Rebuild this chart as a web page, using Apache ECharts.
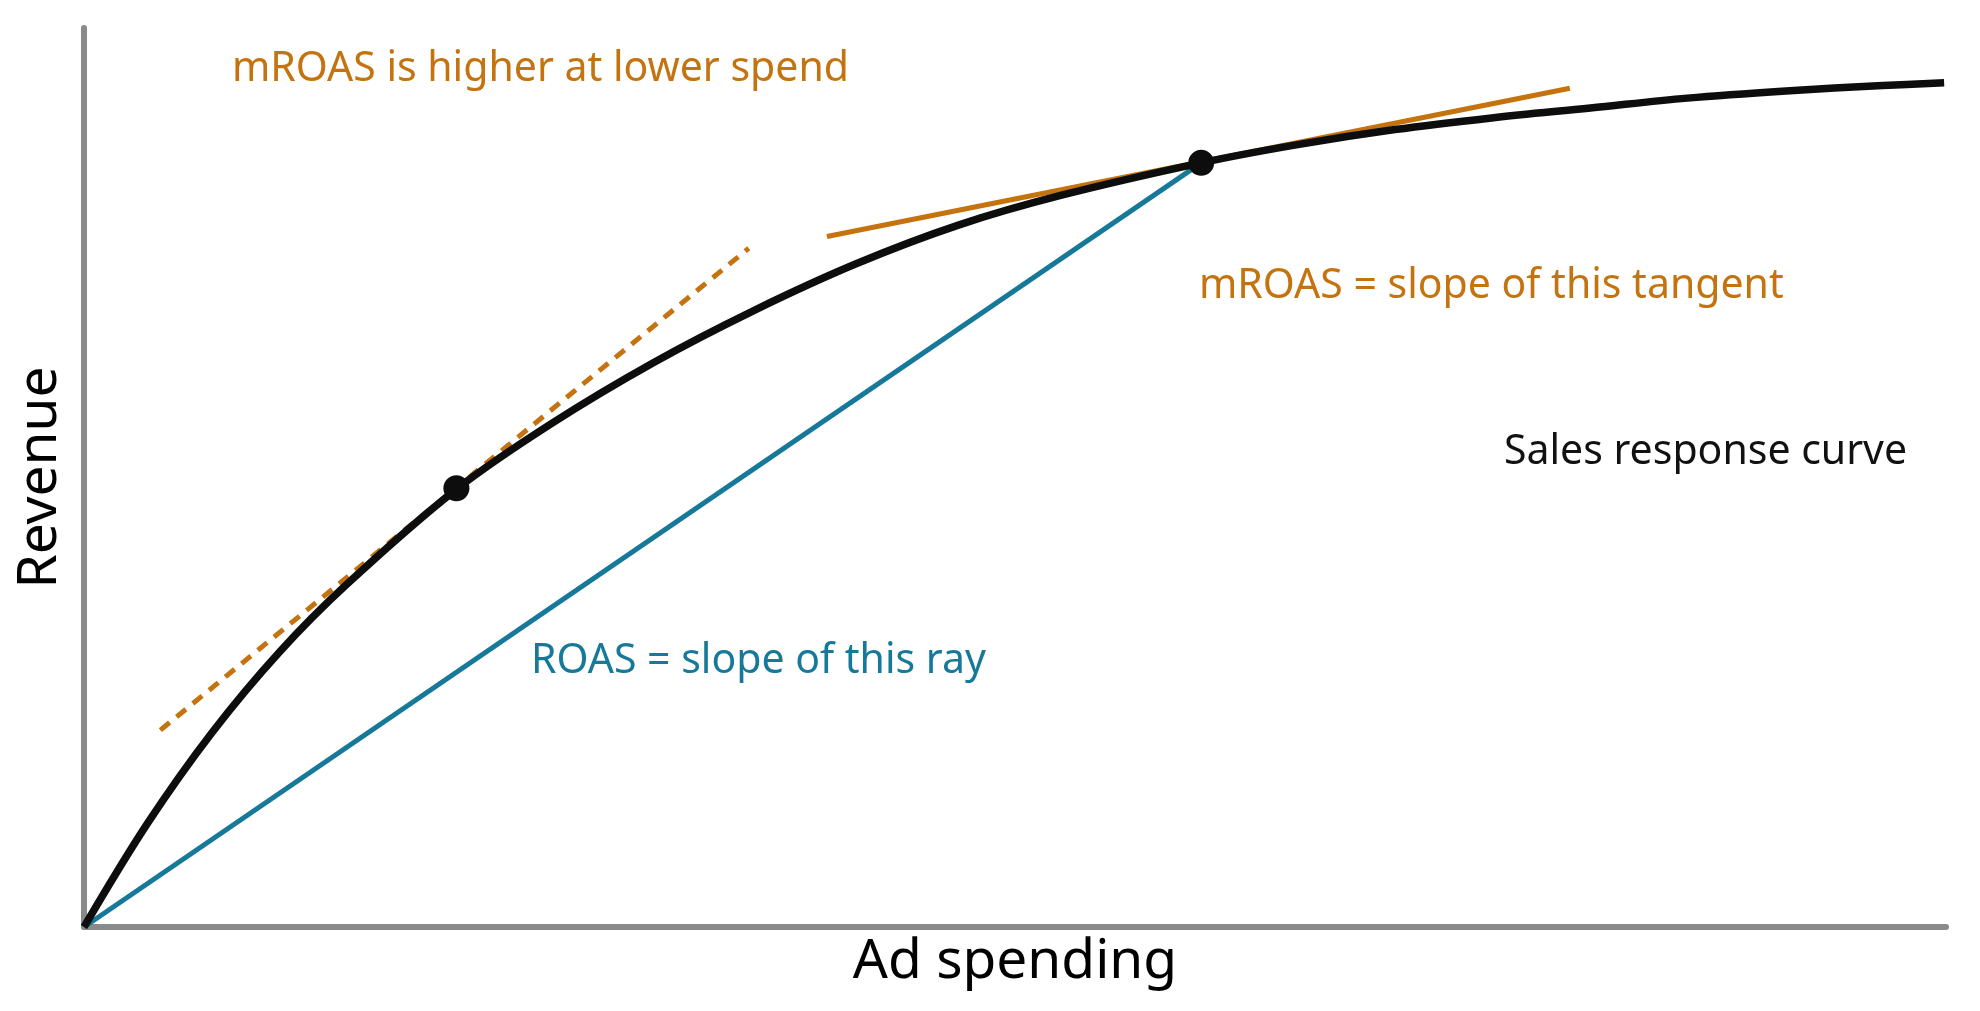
<!DOCTYPE html>
<html>
<head>
<meta charset="utf-8">
<title>Sales response curve</title>
<script src="https://cdn.jsdelivr.net/npm/echarts@6/dist/echarts.min.js"></script>
<style>
html, body { margin: 0; padding: 0; background: #fff; }
#chart_resp { width: 1980px; height: 1011px; }
</style>
</head>
<body>
<div id="chart_resp"></div>
<script>
// values (x = ad spending, y = revenue, both 0..10)
var spendX   = [0, 0.34, 0.69, 1.05, 1.41, 2.00, 2.51, 3.06, 3.60, 4.15, 4.70, 5.25, 6.00, 6.51, 7.04, 7.56, 8.09, 8.61, 9.14, 9.66, 9.99];
var revenueY = [0, 1.15, 2.17, 3.06, 3.81, 4.87, 5.60, 6.28, 6.86, 7.38, 7.81, 8.14, 8.50, 8.70, 8.87, 9.00, 9.11, 9.22, 9.30, 9.36, 9.39];
var pointsX  = [2.00, 6.00];
var pointsY  = [4.88, 8.50];
var rayX     = [0, 6.00];
var rayY     = [0, 8.50];
var lowTanX  = [0.41, 3.57];
var lowTanY  = [2.19, 7.55];
var highTanX = [3.99, 7.98];
var highTanY = [7.68, 9.33];

var ORANGE = '#c4730f';
var BLUE = '#17799a';
var FONT = '"Noto Sans", "Open Sans", sans-serif';

function pairs(xs, ys) {
	var out = [];
	for (var i = 0; i < xs.length; i++) {
		out.push([xs[i], ys[i]]);
	}
	return out;
}

function note(text, x, y, color) {
	return {
		type: 'text',
		x: x,
		y: y,
		silent: true,
		style: {
			text: text,
			fill: color,
			font: '41px ' + FONT,
			textAlign: 'left',
			textVerticalAlign: 'middle'
		}
	};
}

var mychart = echarts.init(document.getElementById('chart_resp'));

var option = {
	animation: false,
	backgroundColor: '#ffffff',
	grid: { left: 84, right: 34, top: 28, bottom: 84 },
	xAxis: {
		type: 'value',
		min: 0,
		max: 10,
		name: 'Ad spending',
		nameLocation: 'middle',
		nameGap: 8,
		nameTextStyle: { fontFamily: FONT, fontSize: 55, color: '#000' },
		axisLine: { show: true, lineStyle: { color: '#8a8a8a', width: 6 } },
		axisTick: { show: false },
		axisLabel: { show: false },
		splitLine: { show: false }
	},
	yAxis: {
		type: 'value',
		min: 0,
		max: 10,
		name: 'Revenue',
		nameLocation: 'middle',
		nameGap: 16,
		nameTextStyle: { fontFamily: FONT, fontSize: 55, color: '#000' },
		axisLine: { show: true, lineStyle: { color: '#8a8a8a', width: 6 } },
		axisTick: { show: false },
		axisLabel: { show: false },
		splitLine: { show: false }
	},
	graphic: [
		note('mROAS is higher at lower spend', 232, 69, ORANGE),
		note('mROAS = slope of this tangent', 1199, 286, ORANGE),
		note('ROAS = slope of this ray', 531, 661, BLUE),
		note('Sales response curve', 1504, 452, '#111')
	],
	series: [
		{
			type: 'line',
			name: 'tangent low',
			data: pairs(lowTanX, lowTanY),
			symbol: 'none',
			z: 1,
			lineStyle: { color: ORANGE, width: 5, type: [12, 9] }
		},
		{
			type: 'line',
			name: 'tangent high',
			data: pairs(highTanX, highTanY),
			symbol: 'none',
			z: 1,
			lineStyle: { color: ORANGE, width: 5 }
		},
		{
			type: 'line',
			name: 'ray',
			data: pairs(rayX, rayY),
			symbol: 'none',
			z: 2,
			lineStyle: { color: BLUE, width: 5 }
		},
		{
			type: 'line',
			name: 'response',
			data: pairs(spendX, revenueY),
			symbol: 'none',
			smooth: 0.35,
			z: 3,
			lineStyle: { color: '#0d0d0d', width: 7.5 }
		},
		{
			type: 'scatter',
			name: 'points',
			data: pairs(pointsX, pointsY),
			symbol: 'circle',
			symbolSize: 26,
			z: 4,
			itemStyle: { color: '#0d0d0d', opacity: 1 }
		}
	]
};

mychart.setOption(option, true);
</script>
</body>
</html>
